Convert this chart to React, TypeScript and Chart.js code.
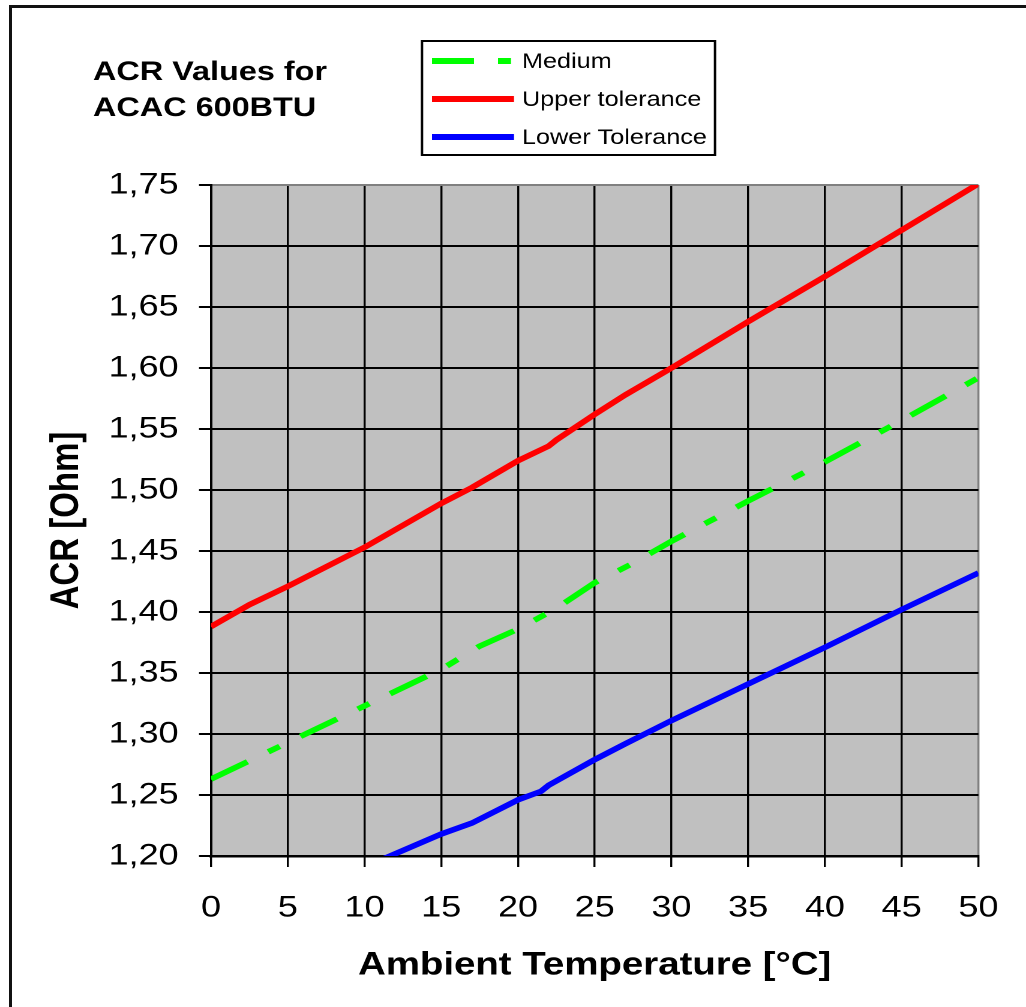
import React, { useEffect, useRef } from "react";
import { Chart, registerables } from "chart.js";

Chart.register(...registerables);

// ---------------- data ----------------
const titleLines = ["ACR Values for", "ACAC 600BTU"];
const xAxisTitle = "Ambient Temperature [°C]";
const yAxisTitle = "ACR [Ohm]";

const xTicks = [0, 5, 10, 15, 20, 25, 30, 35, 40, 45, 50];
const yTicks = [1.2, 1.25, 1.3, 1.35, 1.4, 1.45, 1.5, 1.55, 1.6, 1.65, 1.7, 1.75];

const mediumTemps = [0, 5, 10, 15, 17.5, 20, 22.5, 25, 27.5, 30, 35, 40, 45, 50];
const mediumValues = [1.263, 1.293, 1.323, 1.353, 1.372, 1.386, 1.403, 1.424, 1.44, 1.458, 1.491, 1.523, 1.557, 1.592];

const upperTemps = [0, 2.5, 5, 10, 15, 17, 20, 22, 22.5, 25, 27, 30, 35, 40, 45, 50];
const upperValues = [1.388, 1.406, 1.421, 1.453, 1.489, 1.502, 1.524, 1.536, 1.541, 1.562, 1.578, 1.6, 1.638, 1.675, 1.713, 1.751];

const lowerTemps = [10, 15, 17, 20, 21.5, 22, 25, 27, 30, 35, 40, 45, 50];
const lowerValues = [1.191, 1.218, 1.227, 1.246, 1.253, 1.258, 1.279, 1.292, 1.311, 1.341, 1.371, 1.402, 1.432];

// ---------------- layout ----------------
const SX = 1.2; // horizontal stretch of the whole picture
const W = 1026 / SX;
const H = 1007;
const L = (px: number) => px / SX;
const AREA = { left: L(211), right: L(981), top: 185, bottom: 856 };
const FONT = "'Liberation Sans', Arial, Helvetica, sans-serif";
const DASH = [35, 20, 11, 20];
const COLORS = { medium: "#00FF00", upper: "#FF0000", lower: "#0000FF" };

const pts = (xs: number[], ys: number[]) => xs.map((x, i) => ({ x, y: ys[i] }));

const plotBg = {
  id: "plotBg",
  beforeDraw(chart: any) {
    const { ctx, chartArea: a } = chart;
    ctx.save();
    ctx.fillStyle = "#C0C0C0";
    ctx.fillRect(a.left, a.top, a.right - a.left, a.bottom - a.top);
    ctx.restore();
  },
};

const annotations = {
  id: "annotations",
  afterDraw(chart: any) {
    const ctx = chart.ctx;
    ctx.save();
    // title
    ctx.fillStyle = "#000";
    ctx.font = `bold 27px ${FONT}`;
    ctx.textAlign = "left";
    ctx.textBaseline = "alphabetic";
    ctx.fillText(titleLines[0], L(93), 80);
    ctx.fillText(titleLines[1], L(93), 116);

    // legend box
    const bx = L(422), by = 41, bw = L(715) - L(422), bh = 114;
    ctx.fillStyle = "#fff";
    ctx.fillRect(bx, by, bw, bh);
    ctx.lineWidth = 2;
    ctx.strokeStyle = "#000";
    ctx.strokeRect(bx, by, bw, bh);

    const rows = [61, 99, 137];
    const ds = chart.data.datasets;
    ds.forEach((d: any, i: number) => {
      const y = rows[i];
      ctx.save();
      ctx.strokeStyle = d.borderColor;
      ctx.lineWidth = 6;
      ctx.lineCap = "butt";
      if (d.borderDash && d.borderDash.length) ctx.setLineDash(d.borderDash);
      ctx.beginPath();
      ctx.moveTo(L(432), y);
      ctx.lineTo(i === 0 ? L(511) : L(514), y);
      ctx.stroke();
      ctx.restore();
      ctx.fillStyle = "#000";
      ctx.font = `21px ${FONT}`;
      ctx.textBaseline = "middle";
      ctx.fillText(d.label, L(522), y + 1);
    });
    ctx.restore();
  },
};

const near = (a: number, b: number) => Math.abs(a - b) < 1e-6;

export default function App() {
  const ref = useRef<HTMLCanvasElement | null>(null);

  useEffect(() => {
    if (!ref.current) return;
    const chart = new Chart(ref.current, {
      type: "line",
      data: {
        datasets: [
          {
            label: "Medium",
            data: pts(mediumTemps, mediumValues),
            borderColor: COLORS.medium,
            backgroundColor: COLORS.medium,
            borderWidth: 5.5,
            borderDash: DASH,
            borderCapStyle: "butt",
            pointRadius: 0,
            tension: 0,
            clip: 0,
          },
          {
            label: "Upper tolerance",
            data: pts(upperTemps, upperValues),
            borderColor: COLORS.upper,
            backgroundColor: COLORS.upper,
            borderWidth: 5.5,
            pointRadius: 0,
            tension: 0,
            clip: 0,
          },
          {
            label: "Lower Tolerance",
            data: pts(lowerTemps, lowerValues),
            borderColor: COLORS.lower,
            backgroundColor: COLORS.lower,
            borderWidth: 5.5,
            pointRadius: 0,
            tension: 0,
            clip: 0,
          },
        ],
      },
      options: {
        animation: false,
        responsive: false,
        devicePixelRatio: 2,
        layout: { padding: { top: AREA.top, right: W - AREA.right, left: 0, bottom: 0 } },
        plugins: { legend: { display: false }, title: { display: false }, tooltip: { enabled: false } },
        scales: {
          x: {
            type: "linear",
            min: 0,
            max: 50,
            afterBuildTicks: (s: any) => {
              s.ticks = xTicks.map((v) => ({ value: v }));
            },
            afterFit: (s: any) => {
              s.height = H - AREA.bottom;
            },
            grid: {
              color: (c: any) => (c.tick && near(c.tick.value, 50) ? "#808080" : "#000"),
              tickColor: "#000",
              lineWidth: 1.7,
              tickLength: 11,
            },
            border: { color: "#000", width: 2.5 },
            ticks: {
              color: "#000",
              font: { size: 30, family: FONT },
              padding: 23,
              maxRotation: 0,
              autoSkip: false,
              callback: (v: any) => String(v),
            },
            title: {
              display: true,
              text: xAxisTitle,
              color: "#000",
              font: { size: 32, weight: "bold", family: FONT },
              padding: { top: 0, bottom: 22 },
            },
          },
          y: {
            type: "linear",
            min: 1.2,
            max: 1.75,
            afterBuildTicks: (s: any) => {
              s.ticks = yTicks.map((v) => ({ value: v }));
            },
            afterFit: (s: any) => {
              s.width = AREA.left;
            },
            grid: {
              color: (c: any) => (c.tick && near(c.tick.value, 1.75) ? "#808080" : "#000"),
              tickColor: "#000",
              lineWidth: 2,
              tickLength: 10,
            },
            border: { color: "#000", width: 2 },
            ticks: {
              color: "#000",
              font: { size: 30, family: FONT },
              padding: 17,
              autoSkip: false,
              callback: (v: any) => Number(v).toFixed(2).replace(".", ","),
            },
            title: {
              display: true,
              text: yAxisTitle,
              color: "#000",
              font: { size: 33, weight: "bold", family: FONT },
              padding: { top: 36, bottom: 0 },
            },
          },
        },
      },
      plugins: [plotBg, annotations],
    } as any);
    return () => chart.destroy();
  }, []);

  return (
    <div style={{ position: "absolute", left: 0, top: 0, width: 1026, height: 1007, overflow: "hidden", background: "#fff" }}>
      <div
        style={{
          position: "absolute",
          left: 9,
          top: 5,
          width: 1100,
          height: 1100,
          border: "3px solid #111",
        }}
      />
      <div style={{ position: "absolute", left: 0, top: 0, transform: `scaleX(${SX})`, transformOrigin: "0 0" }}>
        <canvas ref={ref} width={W} height={H} style={{ display: "block", width: W, height: H }} />
      </div>
    </div>
  );
}
